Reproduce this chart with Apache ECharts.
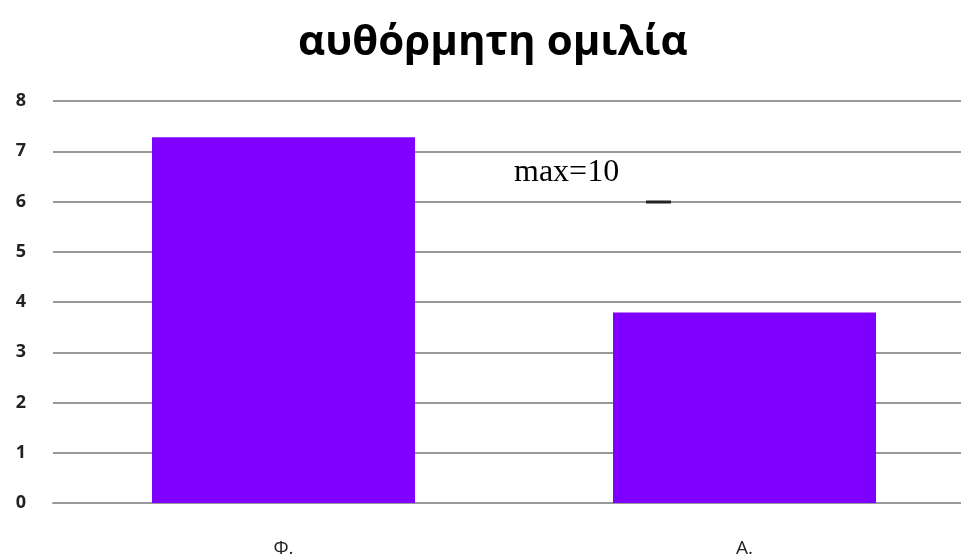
<!DOCTYPE html>
<html><head><meta charset="utf-8">
<script src="https://cdn.jsdelivr.net/npm/echarts@6/dist/echarts.min.js"></script>
<style>html,body{margin:0;padding:0;background:#fff}#c{width:961px;height:560px}</style>
</head><body><div id="c"></div>
<script>
const titleText = 'αυθόρμητη ομιλία';
const categories = ['Φ.', 'Α.'];
const values = [7.28, 3.79];
const yMin = 0, yMax = 8, yInterval = 1;
const noteText = 'max=10';

const chart = echarts.init(document.getElementById('c'));
chart.setOption({
  animation: false,
  backgroundColor: '#fff',
  title: {
    text: titleText, left: 293, top: 17,
    textStyle: {fontFamily: 'Open Sans', fontWeight: 'bold', fontSize: 42, color: '#000'}
  },
  grid: {left: 53, top: 101, width: 922, height: 402, containLabel: false, outerBoundsMode: 'none'},
  xAxis: {
    type: 'category', data: categories,
    axisLine: {show: true, lineStyle: {color: '#999', width: 2}},
    axisTick: {show: false},
    axisLabel: {margin: 36, fontFamily: 'Open Sans', fontSize: 19, color: '#222'}
  },
  yAxis: {
    type: 'value', min: yMin, max: yMax, interval: yInterval,
    axisLine: {show: false}, axisTick: {show: false},
    axisLabel: {margin: 27, fontFamily: 'Open Sans', fontWeight: 'bold', fontSize: 18, color: '#222'},
    splitLine: {lineStyle: {color: '#999', width: 2}}
  },
  series: [{
    type: 'bar', data: values, barWidth: 263,
    itemStyle: {color: '#8000FF'}
  }],
  graphic: [
    {type: 'text', left: 514, top: 157, z: 100, style: {text: noteText, font: '32px "Liberation Serif"', fill: '#000'}},
    {type: 'line', z: 100, shape: {x1: 646, y1: 202, x2: 671, y2: 202}, style: {stroke: '#222', lineWidth: 3}}
  ]
});
</script></body></html>
